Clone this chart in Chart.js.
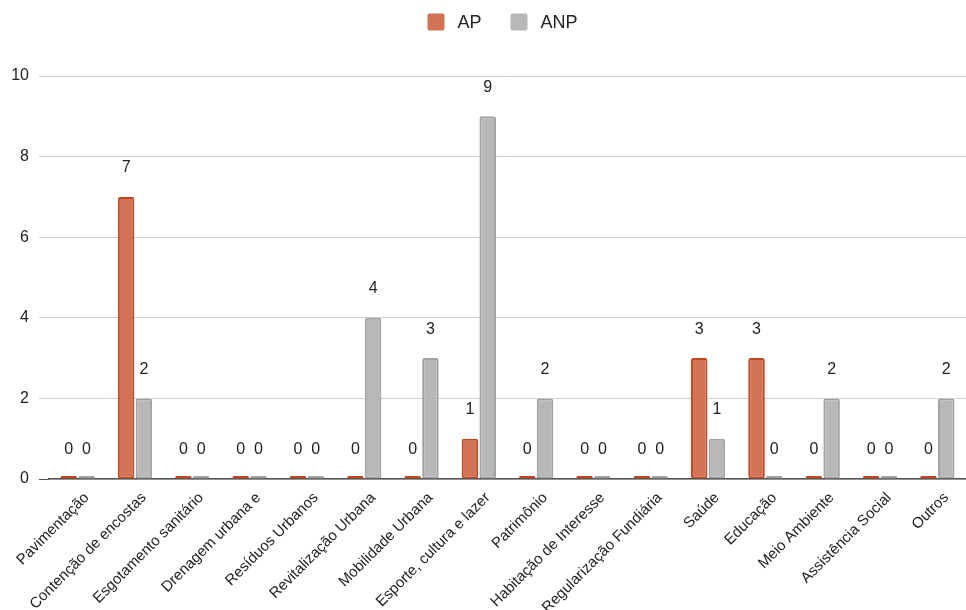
<!DOCTYPE html>
<html>
<head>
<meta charset="utf-8">
<script src="https://cdn.jsdelivr.net/npm/chart.js@4.4.1/dist/chart.umd.min.js"></script>
<style>
  html, body { margin: 0; padding: 0; background: #ffffff; }
  #wrap { width: 966px; height: 610px; }
</style>
</head>
<body>
<div id="wrap"><canvas id="c" width="966" height="610"></canvas></div>
<script>
// Categorias de investimento
const categories = [
  "Pavimentação",
  "Contenção de encostas",
  "Esgotamento sanitário",
  "Drenagem urbana e",
  "Resíduos Urbanos",
  "Revitalização Urbana",
  "Mobilidade Urbana",
  "Esporte, cultura e lazer",
  "Patrimônio",
  "Habitação de Interesse",
  "Regularização Fundiária",
  "Saúde",
  "Educação",
  "Meio Ambiente",
  "Assistência Social",
  "Outros"
];

// Quantidades por série
const apValues  = [0, 7, 0, 0, 0, 0, 0, 1, 0, 0, 0, 3, 3, 0, 0, 0];
const anpValues = [0, 2, 0, 0, 0, 4, 3, 9, 2, 0, 0, 1, 0, 2, 0, 2];

// Rótulos do eixo vertical
const yTicks = [0, 2, 4, 6, 8, 10];

const FONT = "'Liberation Sans', Arial, sans-serif";

// Legenda desenhada no topo, centrada sobre a área das grades
const topLegend = {
  id: 'topLegend',
  afterDraw(chart) {
    const ctx = chart.ctx;
    const area = chart.chartArea;
    const box = 17, textGap = 13, itemGap = 29, cy = 22;
    ctx.save();
    ctx.font = "18px " + FONT;
    ctx.textBaseline = "middle";
    ctx.textAlign = "left";
    const items = chart.data.datasets.map(ds => ({
      text: ds.label, color: ds.backgroundColor, w: ctx.measureText(ds.label).width
    }));
    let total = 0;
    items.forEach((it, i) => { total += box + textGap + it.w + (i ? itemGap : 0); });
    const centre = ((area.left - 10) + area.right) / 2;
    let x = centre - total / 2;
    items.forEach(it => {
      ctx.fillStyle = it.color;
      ctx.beginPath();
      ctx.roundRect(x, cy - box / 2, box, box, 2);
      ctx.fill();
      ctx.fillStyle = "#222222";
      ctx.fillText(it.text, x + box + textGap, cy + 1);
      x += box + textGap + it.w + itemGap;
    });
    ctx.restore();
  }
};

// Escreve o valor acima de cada barra
const valueLabels = {
  id: 'valueLabels',
  afterDatasetsDraw(chart) {
    const ctx = chart.ctx;
    const yScale = chart.scales.y;
    ctx.save();
    ctx.font = "16px " + FONT;
    ctx.fillStyle = "#222222";
    ctx.textAlign = "center";
    ctx.textBaseline = "middle";
    chart.data.datasets.forEach((ds, di) => {
      const meta = chart.getDatasetMeta(di);
      meta.data.forEach((bar, i) => {
        const v = ds.data[i];
        const y = yScale.getPixelForValue(v) - 29;
        ctx.fillText(String(v), bar.x, y);
      });
    });
    ctx.restore();
  }
};

new Chart(document.getElementById('c'), {
  type: 'bar',
  data: {
    labels: categories,
    datasets: [
      {
        label: 'AP',
        data: apValues,
        backgroundColor: '#d07455',
        borderColor: '#c2461f',
        borderWidth: 2,
        borderRadius: 2,
        borderSkipped: false,
        minBarLength: 3
      },
      {
        label: 'ANP',
        data: anpValues,
        backgroundColor: '#b8b8b8',
        borderColor: '#a2a2a2',
        borderWidth: 2,
        borderRadius: 2,
        borderSkipped: false,
        minBarLength: 3
      }
    ]
  },
  options: {
    responsive: false,
    animation: false,
    devicePixelRatio: 1,
    layout: { padding: { top: 76, right: 0, left: 11, bottom: 0 } },
    datasets: {
      bar: { categoryPercentage: 0.62, barPercentage: 0.93 }
    },
    plugins: {
      legend: { display: false },
      tooltip: { enabled: false }
    },
    scales: {
      x: {
        offset: true,
        afterFit(scale) {
          scale.height = 131;
          scale.paddingLeft = 0;
          scale.paddingRight = 0;
        },
        grid: { display: false, drawTicks: false },
        border: { display: true, color: '#555555', width: 1.5 },
        ticks: {
          font: { family: FONT, size: 15 },
          color: '#222222',
          minRotation: 45,
          maxRotation: 45,
          autoSkip: false,
          padding: 10,
          labelOffset: 9
        }
      },
      y: {
        min: 0,
        max: 10,
        afterBuildTicks(scale) {
          scale.ticks = yTicks.map(v => ({ value: v }));
        },
        afterFit(scale) {
          scale.width = 38;
          scale.paddingTop = 0;
          scale.paddingBottom = 0;
        },
        grid: {
          color: '#d0d0d0',
          lineWidth: 1,
          drawTicks: true,
          tickLength: 10,
          tickColor: ctx => (ctx.tick && ctx.tick.value === 0) ? '#555555' : '#d0d0d0'
        },
        border: { display: false },
        ticks: {
          font: { family: FONT, size: 16 },
          color: '#222222',
          padding: 10
        }
      }
    }
  },
  plugins: [valueLabels, topLegend]
});
</script>
</body>
</html>
